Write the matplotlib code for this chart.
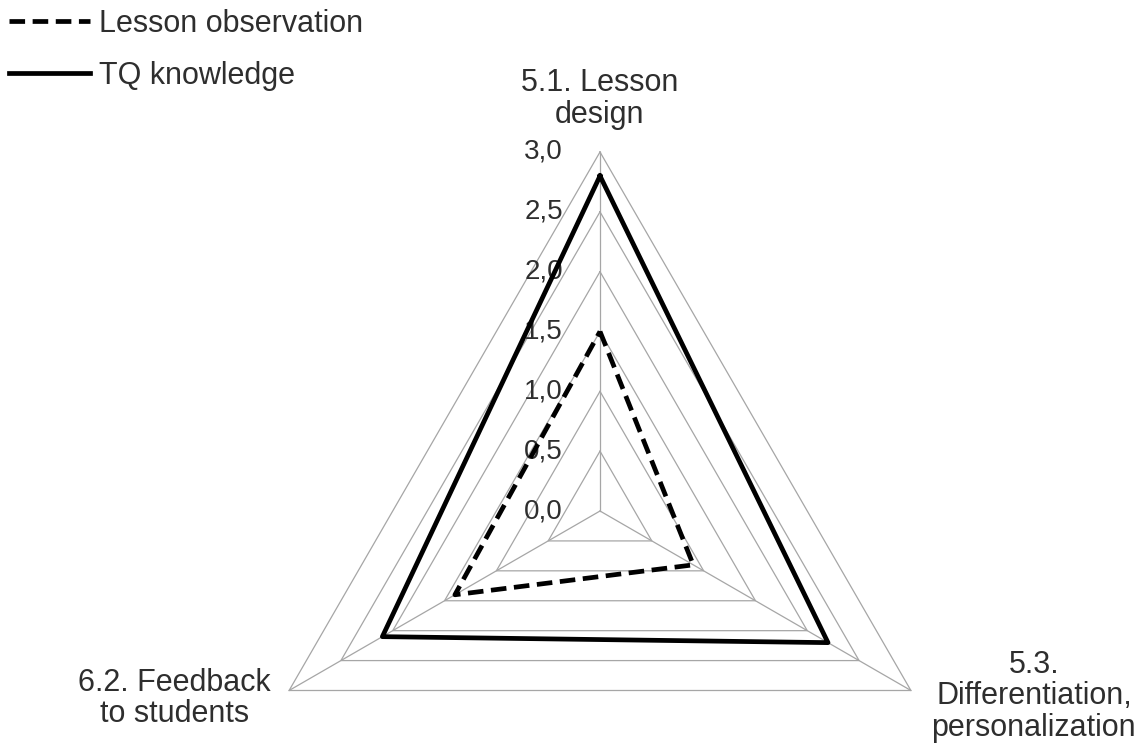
import numpy as np
import matplotlib
matplotlib.use("Agg")
import matplotlib.pyplot as plt
from matplotlib.lines import Line2D

# categories, clockwise from the top
categories = ["5.1. Lesson\ndesign", "5.3.\nDifferentiation,\npersonalization", "6.2. Feedback\nto students"]
lesson_observation = [1.5, 0.9, 1.4]
tq_knowledge = [2.8, 2.2, 2.1]
levels = [0.5, 1.0, 1.5, 2.0, 2.5, 3.0]
level_labels = ["0,0", "0,5", "1,0", "1,5", "2,0", "2,5", "3,0"]

plt.rcParams['font.family'] = ['Liberation Sans', 'DejaVu Sans']
txt_color = '#2e2e2e'
grid_color = '#a6a6a6'

fig = plt.figure(figsize=(11.35, 7.5), dpi=100)
# polar axes centred on the triangle, radius 3.0 = 359 px
ax = fig.add_axes([241/1135, (750-870)/750, 718/1135, 718/750], projection='polar')
ax.set_theta_offset(np.pi/2)
ax.set_theta_direction(-1)
ax.set_ylim(0, 3.0)
ax.grid(False)
ax.set_xticks([])
ax.set_yticks([])
ax.spines['polar'].set_visible(False)
ax.patch.set_visible(False)

n = len(categories)
angles = np.linspace(0, 2*np.pi, n, endpoint=False)
closed = np.append(angles, angles[0])

def close(vals):
    return list(vals) + [vals[0]]

# triangular grid
for lv in levels:
    ax.plot(closed, [lv]*(n+1), color=grid_color, lw=0.9, zorder=1, clip_on=False)
for a in angles:
    ax.plot([a, a], [0, levels[-1]], color=grid_color, lw=0.9, zorder=1, clip_on=False)

# radial tick labels along the top spoke
for i, lab in enumerate(level_labels):
    ax.annotate(lab, xy=(0, i*0.5), xytext=(-37, 0), textcoords='offset pixels',
                ha='right', va='center', fontsize=20, color=txt_color, zorder=1.5)

# series
ax.plot(closed, close(lesson_observation), color='black', lw=3.4, ls=(0, (3.3, 1.6)),
        zorder=3, clip_on=False)
ax.plot(closed, close(tq_knowledge), color='black', lw=3.4, zorder=3, clip_on=False)

# category labels
offsets = [(0, 53), (123, -6), (-115, -8)]
for a, lab, off in zip(angles, categories, offsets):
    ax.annotate(lab, xy=(a, levels[-1]), xytext=off, textcoords='offset pixels',
                ha='center', va='center', fontsize=22, color=txt_color,
                linespacing=1.05, annotation_clip=False)

handles = [Line2D([], [], color='black', lw=3.4, ls=(0, (3.3, 1.6))),
           Line2D([], [], color='black', lw=3.4)]
leg = fig.legend(handles, ["Lesson observation", "TQ knowledge"], loc='upper left',
                 bbox_to_anchor=(0.0, 1.0), frameon=False, fontsize=22,
                 handlelength=2.65, handletextpad=0.32, labelspacing=0.72,
                 borderaxespad=0.0, borderpad=0.28)
for t in leg.get_texts():
    t.set_color(txt_color)

fig.savefig("out.png", dpi=100, facecolor='white')
